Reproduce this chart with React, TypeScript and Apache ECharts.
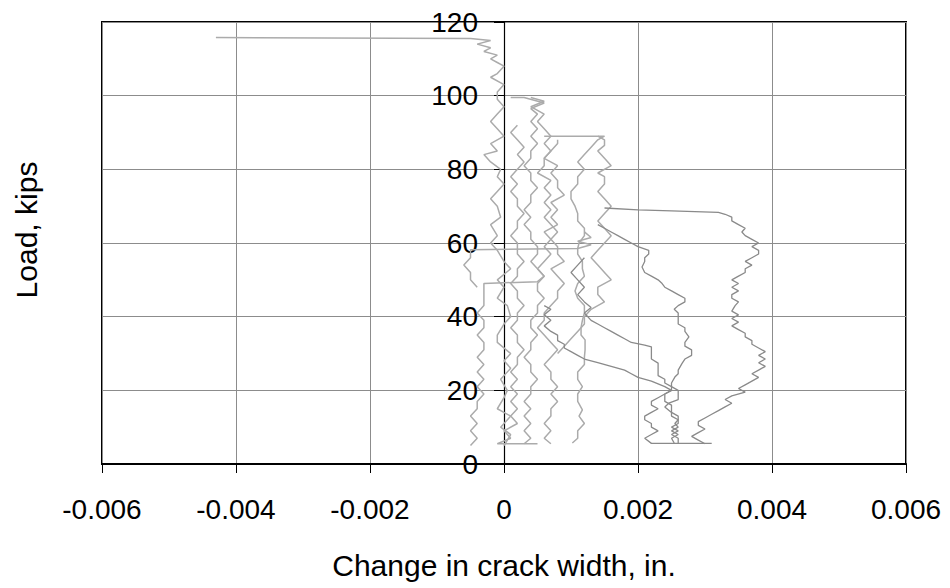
import React, { useEffect, useRef } from "react";
import * as echarts from "echarts";

// x: change in crack width (in.), y: load (kips)
const xTitle = "Change in crack width, in.";
const yTitle = "Load, kips";

const gaugeTop: number[][] = [
  [0.0, 5], [0.0001, 8], [-0.00005, 10], [0.0001, 13], [-0.0001, 15], [0.0, 18], [0.00005, 20], [-0.00005, 23],
  [0.0001, 26], [0.0, 28], [0.0001, 30], [-0.0001, 33], [-0.0001, 35], [0.0, 38], [0.0001, 40], [0.00005, 43],
  [-0.0001, 45], [0.0, 48], [-0.0001, 50], [0.0001, 53], [0.0, 55], [-0.0001, 58], [-0.0002, 60], [-0.0001, 62],
  [-0.0002, 65], [-0.00005, 67], [-0.0001, 70], [-0.0002, 72], [-0.0001, 74], [0.0, 76], [-0.0001, 78],
  [-0.00005, 80], [-0.0002, 82], [-0.0003, 84], [-0.0001, 85], [-0.0002, 87], [0.0, 89], [-0.0001, 91],
  [-0.0002, 93], [-0.0001, 95], [0.0, 97], [-0.0001, 99], [-0.0001, 101], [0.0, 103], [-0.0002, 105],
  [-0.0001, 106], [0.0, 108], [-0.0001, 109], [-0.0002, 110], [-0.0001, 111], [-0.0003, 112], [-0.0002, 113],
  [-0.0004, 114], [-0.0002, 115], [-0.0005, 115.5], [-0.0043, 115.8],
];

const gaugeLeft: number[][] = [
  [-0.0005, 5], [-0.0004, 7], [-0.0005, 9], [-0.0004, 11], [-0.0005, 13], [-0.0004, 15], [-0.0004, 17],
  [-0.0003, 19], [-0.0004, 21], [-0.0003, 23], [-0.0004, 25], [-0.0003, 27], [-0.0004, 29], [-0.0003, 31],
  [-0.0003, 33], [-0.0004, 35], [-0.0003, 37], [-0.0003, 39], [-0.0004, 41], [-0.0003, 43], [-0.0003, 45],
  [-0.0003, 47], [-0.0003, 49], [0.0005, 49.5], [0.0006, 51], [0.0005, 53], [0.0006, 55], [0.0007, 57],
  [0.0006, 59], [0.0007, 61], [0.0006, 63], [0.0008, 65], [0.0007, 67], [0.0008, 69], [0.0007, 71],
  [0.0009, 73], [0.0008, 75], [0.0008, 77], [0.0007, 79], [0.0008, 81], [0.0006, 83], [0.0007, 85],
  [0.0006, 87], [0.0007, 89], [0.0006, 91], [0.0005, 93], [0.0006, 95], [0.0004, 97], [0.0006, 98.5],
  [0.0004, 99.5],
];

const gaugeLeft2: number[][] = [
  [-0.0004, 48], [-0.0005, 50], [-0.0005, 52], [-0.0006, 54], [-0.0005, 56], [-0.0005, 58.2], [0.0011, 58.5],
  [0.0013, 59.5], [0.0011, 60.5], [0.0013, 61.5], [0.0012, 63],
];

const gaugeNear: number[][] = [
  [0.0005, 5.5], [-0.0001, 5.5], [0.0001, 7], [0.0, 9], [0.0002, 11], [0.0001, 13], [0.0002, 15],
  [0.0001, 17], [0.0002, 19], [0.0001, 21], [0.0002, 23], [0.0001, 25], [0.0002, 27], [0.0002, 29],
  [0.0003, 31], [0.0002, 33], [0.0002, 35], [0.0001, 37], [0.0002, 39], [0.0002, 41], [0.0003, 43],
  [0.0002, 45], [0.0002, 47], [0.0001, 49], [0.0002, 51], [0.0002, 53], [0.0003, 55], [0.0002, 57],
  [0.0002, 60], [0.0001, 62], [0.0002, 64], [0.0002, 66], [0.0003, 68], [0.0002, 70], [0.0002, 72],
  [0.0001, 74], [0.0002, 76], [0.0001, 78], [0.0002, 80], [0.0003, 82], [0.0002, 84], [0.0003, 86],
  [0.0002, 88], [0.0001, 90], [0.0002, 92],
];

const gaugeMid1: number[][] = [
  [0.0003, 5.5], [0.0004, 7], [0.0003, 9], [0.0004, 11], [0.0003, 13], [0.0004, 15], [0.0003, 17],
  [0.0004, 19], [0.0004, 21], [0.0005, 23], [0.0004, 25], [0.0004, 27], [0.0003, 29], [0.0004, 31],
  [0.0004, 33], [0.0005, 35], [0.0004, 37], [0.0004, 39], [0.0005, 41], [0.0005, 43], [0.0006, 45],
  [0.0005, 47], [0.0005, 49], [0.0006, 51], [0.0005, 53], [0.0004, 55], [0.0005, 57], [0.0005, 59],
  [0.0004, 61], [0.0004, 63], [0.0003, 65], [0.0004, 67], [0.0003, 69], [0.0004, 71], [0.0004, 73],
  [0.0005, 75], [0.0004, 77], [0.0004, 79], [0.0003, 81], [0.0004, 83], [0.0004, 85], [0.0005, 87],
  [0.0004, 89], [0.0005, 91], [0.0004, 93], [0.0005, 95], [0.0004, 96.5], [0.0006, 98], [0.0003, 99.5],
  [0.0001, 99.5],
];

const gaugeMid2: number[][] = [
  [0.0007, 5.5], [0.0006, 7], [0.0007, 9], [0.0006, 11], [0.0007, 13], [0.0007, 15], [0.0008, 17],
  [0.0007, 19], [0.0008, 21], [0.0007, 23], [0.0007, 25], [0.0006, 27], [0.0007, 29], [0.0008, 31],
  [0.0007, 33], [0.0006, 35], [0.0005, 37], [0.0006, 39], [0.0006, 41], [0.0007, 43], [0.0008, 45],
  [0.0008, 47], [0.0009, 49], [0.0008, 51], [0.0007, 53], [0.0009, 55], [0.0008, 57], [0.0008, 59],
  [0.0007, 61], [0.0008, 63], [0.0007, 65], [0.0006, 67], [0.0007, 69], [0.0006, 71], [0.0007, 73],
  [0.0006, 75], [0.0007, 77], [0.0005, 79], [0.0006, 81], [0.0006, 83], [0.0007, 85], [0.0008, 87],
  [0.0008, 88],
];

const gaugeMid3: number[][] = [
  [0.00102, 5.7], [0.0011, 7], [0.0011, 9], [0.0012, 11], [0.00112, 13], [0.00117, 14.7], [0.0011, 17],
  [0.0011, 19], [0.00117, 21], [0.0011, 23], [0.0011, 25], [0.0012, 27], [0.0012, 29], [0.00121, 31],
  [0.00121, 33.7], [0.00115, 35], [0.00115, 37], [0.00117, 39], [0.0012, 41], [0.0012, 43], [0.0011, 45],
  [0.00106, 47], [0.0011, 49], [0.0012, 51], [0.00117, 53], [0.00117, 55], [0.0011, 57], [0.0011, 58.5],
  [0.00112, 60], [0.0012, 62], [0.0012, 64], [0.0011, 66], [0.0011, 68], [0.00106, 70], [0.001, 72],
  [0.001, 74], [0.0011, 76], [0.0011, 78], [0.0012, 80], [0.0011, 82], [0.0012, 84], [0.0013, 86],
  [0.0014, 88], [0.0015, 89], [0.0006, 89],
];

const gaugeMid4: number[][] = [
  [0.0008, 30], [0.0009, 32], [0.001, 34], [0.0011, 36], [0.0012, 38], [0.0012, 40], [0.0013, 42],
  [0.0015, 44], [0.0014, 46], [0.0014, 48], [0.0016, 50], [0.0015, 52], [0.0014, 54], [0.0013, 56],
  [0.0014, 58], [0.0015, 60], [0.0016, 62], [0.0015, 64], [0.0014, 66], [0.0015, 68], [0.0016, 70],
  [0.0015, 72], [0.0014, 74], [0.0015, 76], [0.0015, 78], [0.0014, 79], [0.0016, 81], [0.0015, 83],
  [0.0014, 85], [0.0015, 86.5], [0.0015, 88], [0.0014, 89],
];

const gaugeRight1: number[][] = [
  [0.003, 5.5], [0.0029, 6.5], [0.0028, 7.5], [0.0029, 8.5], [0.003, 9.5], [0.0029, 10.5], [0.0029, 11.5],
  [0.003, 12.5], [0.0031, 13.5], [0.0032, 14.5], [0.0033, 15.5], [0.0034, 16.5], [0.0033, 17.5],
  [0.0034, 18.5], [0.0036, 19.5], [0.0035, 20.5], [0.0036, 21.5], [0.0037, 22.5], [0.0038, 23.5],
  [0.0037, 24.5], [0.0038, 25.5], [0.0039, 26.5], [0.0038, 27.5], [0.0039, 28.5], [0.0038, 29.5],
  [0.0039, 30.5], [0.0038, 31.5], [0.0037, 32.5], [0.0037, 33.5], [0.0036, 34.5], [0.0036, 35.5],
  [0.0035, 36.5], [0.0034, 37.5], [0.0035, 38.5], [0.0034, 39.5], [0.0035, 40.5], [0.0034, 41.5],
  [0.00345, 43], [0.0035, 44], [0.0034, 45], [0.0034, 46], [0.0035, 47], [0.0034, 48], [0.0035, 49],
  [0.0034, 50], [0.0035, 51], [0.0036, 52], [0.0036, 53], [0.0037, 54], [0.0036, 55], [0.0037, 56],
  [0.0038, 57], [0.0038, 58], [0.0037, 59], [0.0038, 60], [0.0037, 61], [0.0036, 62], [0.00355, 63],
  [0.0036, 64], [0.0035, 65], [0.0034, 66], [0.0034, 67], [0.0033, 67.8], [0.0032, 68.3], [0.0025, 68.7],
  [0.002, 69], [0.0015, 69.5],
];

const gaugeRight2: number[][] = [
  [0.00254, 5.7], [0.0025, 7], [0.0026, 8], [0.0025, 9], [0.0026, 10], [0.00255, 11], [0.0026, 12],
  [0.0025, 13], [0.0025, 14], [0.0024, 15.5], [0.00246, 16.5], [0.0026, 17.5], [0.0026, 18.5],
  [0.0026, 20], [0.0025, 21], [0.0025, 22], [0.00255, 23.6], [0.0026, 24.5], [0.0026, 25.5],
  [0.00266, 27.4], [0.0027, 28.5], [0.0028, 29.5], [0.0028, 31], [0.0027, 32], [0.0027, 33], [0.00276, 34.5],
  [0.0027, 36], [0.0027, 37], [0.0026, 38], [0.0026, 39.5], [0.0026, 41], [0.00254, 42], [0.0026, 43],
  [0.0027, 44], [0.0027, 45], [0.0026, 46], [0.0025, 47], [0.0024, 48], [0.00236, 49], [0.0023, 50],
  [0.0022, 51], [0.0021, 52], [0.00206, 53.5], [0.0021, 55], [0.0021, 56], [0.00216, 57], [0.00216, 58],
  [0.002, 59], [0.0019, 60], [0.0018, 61], [0.0017, 62], [0.0016, 63], [0.0015, 64], [0.0014, 65],
];

const gaugeRight3: number[][] = [
  [0.0031, 5.6], [0.0022, 5.6], [0.0021, 7], [0.0022, 8], [0.0023, 9], [0.0022, 10], [0.0022, 11],
  [0.0021, 12], [0.0021, 13], [0.0022, 14], [0.0023, 15], [0.0022, 16], [0.0022, 17], [0.0023, 18],
  [0.0024, 19], [0.0025, 20], [0.0025, 21], [0.0024, 22], [0.0024, 23], [0.0023, 24], [0.0023, 25],
  [0.0023, 26], [0.0023, 27.4], [0.0022, 28.5], [0.0022, 30], [0.0022, 31.8], [0.0021, 32.3],
  [0.0019, 33], [0.0018, 34], [0.0017, 35], [0.0016, 36], [0.0015, 37], [0.0014, 38], [0.0013, 39],
  [0.0012, 41], [0.0013, 42.5], [0.0012, 44], [0.0011, 46], [0.0012, 48], [0.0011, 50], [0.001, 52],
  [0.0011, 54], [0.0012, 56],
];

const gaugeRight4: number[][] = [
  [0.0026, 5.5], [0.0026, 7], [0.0025, 8], [0.0026, 9], [0.0025, 10], [0.0026, 11], [0.0026, 13],
  [0.0025, 14], [0.0025, 16], [0.0024, 17], [0.0024, 19], [0.0025, 20], [0.0024, 21], [0.0022, 22.5],
  [0.002, 23.5], [0.0019, 24.5], [0.0018, 25.5], [0.0016, 26.5], [0.0014, 27.5], [0.0012, 28.5],
  [0.0011, 29.5], [0.001, 30.5], [0.0009, 31.5], [0.0009, 32.5], [0.0008, 33.5], [0.0008, 35],
  [0.0007, 36], [0.0006, 37.5], [0.0007, 39], [0.0006, 40.5], [0.0007, 42], [0.0006, 43],
];

const lightSeries = [gaugeTop, gaugeLeft, gaugeLeft2, gaugeNear, gaugeMid1, gaugeMid2, gaugeMid3, gaugeMid4];
const darkSeries = [gaugeRight1, gaugeRight2, gaugeRight3, gaugeRight4];

export default function App() {
  const ref = useRef<HTMLDivElement>(null);
  useEffect(() => {
    if (!ref.current) return;
    const chart = echarts.init(ref.current, undefined, { renderer: "svg" });
    const font = "Liberation Sans, Arial, sans-serif";
    const series: any[] = [];
    lightSeries.forEach((d) =>
      series.push({
        type: "line",
        data: d,
        symbol: "none",
        lineStyle: { color: "#ababab", width: 1.5 },
      })
    );
    darkSeries.forEach((d) =>
      series.push({
        type: "line",
        data: d,
        symbol: "none",
        lineStyle: { color: "#8a8a8a", width: 1.3 },
      })
    );
    chart.setOption({
      animation: false,
      backgroundColor: "#ffffff",
      grid: {
        left: 102,
        right: 44,
        top: 22,
        bottom: 124,
        show: true,
        borderColor: "#000",
        borderWidth: 2,
        backgroundColor: "transparent",
      },
      xAxis: {
        type: "value",
        min: -0.006,
        max: 0.006,
        interval: 0.002,
        name: xTitle,
        nameLocation: "middle",
        nameGap: 86,
        nameTextStyle: { fontSize: 30, color: "#000", fontFamily: font },
        axisLine: { onZero: false, lineStyle: { color: "#000", width: 2 } },
        axisTick: { show: true, inside: false, length: 9, lineStyle: { color: "#000", width: 1 } },
        axisLabel: {
          fontSize: 28,
          color: "#000",
          fontFamily: font,
          margin: 31,
          formatter: (v: number) => (Math.abs(v) < 1e-9 ? "0" : v.toFixed(3)),
        },
        splitLine: { show: true, lineStyle: { color: "#8c8c8c", width: 1 } },
      },
      yAxis: {
        type: "value",
        min: 0,
        max: 120,
        interval: 20,
        position: "left",
        offset: -402,
        axisLine: { show: true, onZero: false, lineStyle: { color: "#000", width: 1.2 } },
        axisTick: { show: true, inside: false, length: 10, lineStyle: { color: "#000", width: 1 } },
        axisLabel: { fontSize: 28, color: "#000", fontFamily: font, margin: 26 },
        splitLine: { show: true, lineStyle: { color: "#8c8c8c", width: 1 } },
      },
      graphic: [
        {
          type: "text",
          x: 26,
          y: 230,
          rotation: Math.PI / 2,
          style: {
            text: yTitle,
            fontSize: 30,
            fontFamily: font,
            fill: "#000",
            align: "center",
            verticalAlign: "middle",
          },
        },
      ],
      series,
    });
    return () => chart.dispose();
  }, []);
  return (
    <div
      ref={ref}
      style={{ position: "fixed", left: 0, top: 0, width: 950, height: 588, background: "#fff" }}
    />
  );
}
